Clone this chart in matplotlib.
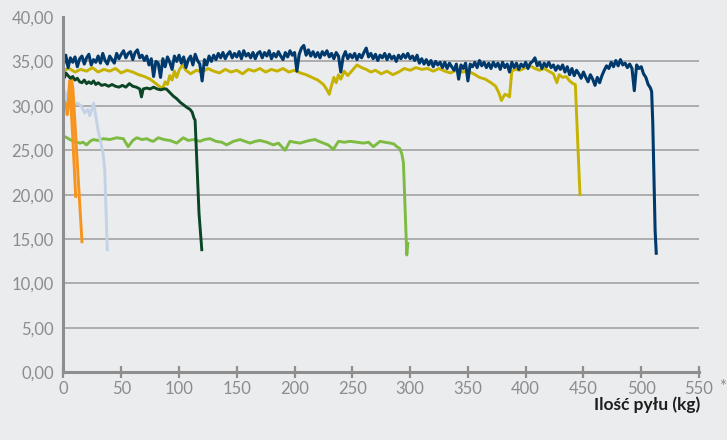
import numpy as np
import matplotlib
matplotlib.use("Agg")
import matplotlib.pyplot as plt
from matplotlib.ticker import FuncFormatter

# dark blue series, read every 2 kg, then the final drop
blue_x = list(range(0, 509, 2)) + [509, 510, 511, 512, 513]
blue_y = [34.6, 35.7, 34.3, 35.4, 34.9, 35.5, 34.4, 35.3, 35.6, 34.7,
          35.4, 35.8, 34.6, 35.2, 34.9, 35.6, 34.8, 35.9, 35.1, 34.7,
          35.6, 35.2, 34.8, 35.9, 35.3, 35.8, 36.2, 35.4, 35.9, 36.1,
          35.2, 36.0, 36.3, 35.4, 35.7, 35.1, 35.6, 34.6, 35.3, 33.3,
          35.0, 34.8, 33.2, 35.3, 34.4, 35.5, 34.9, 34.1, 35.6, 35.0,
          35.7, 34.8, 35.5, 34.3, 35.2, 35.6, 34.6, 35.8, 35.1, 34.7,
          32.8, 35.2, 34.6, 35.6, 35.0, 35.7, 35.2, 35.9, 35.4, 36.0,
          35.3, 35.8, 36.1, 35.4, 35.9, 35.5, 36.1, 35.3, 36.2, 35.6,
          35.9, 35.4, 36.0, 35.3, 35.9, 36.1, 35.4, 36.0, 35.6, 36.2,
          35.3, 35.9, 35.5, 36.1, 35.6, 35.2, 36.0, 35.5, 36.2, 35.7,
          36.0, 33.9, 35.8, 36.5, 36.8, 35.7, 36.3, 35.6, 36.1, 35.5,
          36.0, 35.4, 36.1, 35.7, 36.2, 35.5, 35.9, 35.3, 36.0, 35.6,
          33.8, 35.5, 36.1, 35.3, 35.8, 35.4, 35.9, 35.2, 35.8, 35.4,
          36.0, 36.5, 35.5, 35.9, 35.3, 35.8, 35.1, 35.7, 35.4, 35.9,
          35.2, 35.8, 35.3, 35.6, 35.0, 35.7, 35.3, 35.8, 35.4, 35.9,
          35.3, 35.6, 35.1, 35.7, 34.8, 35.3, 34.7, 35.2, 34.6, 35.1,
          34.4, 35.0, 34.6, 34.9, 34.3, 34.9, 34.2, 34.8, 34.4, 34.0,
          34.7, 33.0, 34.6, 34.2, 34.8, 32.8, 34.7, 34.4, 34.9, 34.3,
          35.1, 34.5, 34.9, 34.3, 34.8, 34.2, 34.9, 34.4, 34.8, 34.1,
          34.9, 34.3, 34.7, 33.8, 34.9, 34.3, 34.8, 34.1, 34.7, 34.4,
          34.9, 34.2, 34.8, 35.0, 35.4, 34.5, 34.9, 34.2, 34.8, 34.4,
          34.9, 34.3, 34.6, 34.0, 34.5, 34.1, 34.6, 33.8, 34.4, 33.5,
          34.2, 33.4, 34.0, 33.6, 33.1, 33.8, 33.2, 32.7, 33.5, 33.0,
          32.3, 33.2, 32.6, 33.4, 34.0, 34.5, 34.2, 34.9, 34.4, 35.1,
          34.5, 35.2, 34.6, 34.8, 34.3, 34.7, 34.2, 31.7, 34.6, 34.2,
          34.4, 33.6, 33.2, 32.4, 32.0,
          31.6, 28.0, 22.0, 16.0, 13.4]

# yellow series
yellow_x = [0, 5, 10, 15, 20, 25, 30, 35, 40, 45, 50, 55, 60, 65, 70, 75, 80, 84, 86, 88,
            90, 92, 94, 96, 98, 100, 103, 106, 110, 115, 120, 125, 130, 135, 140, 145, 150, 155, 160, 165,
            170, 175, 180, 185, 190, 195, 200, 205, 210, 215, 220, 225, 228, 230, 232, 234, 236, 238, 240, 243,
            246, 250, 254, 258, 262, 266, 270, 275, 280, 285, 290, 295, 300, 305, 310, 315, 320, 325, 330, 335,
            340, 345, 350, 355, 360, 365, 370, 374, 377, 379, 382, 384, 386, 388, 391, 395, 400, 404, 408, 412,
            416, 420, 424, 427, 429, 432, 435, 438, 441, 443, 445, 447]
yellow_y = [34.0, 34.2, 33.8, 34.1, 33.9, 34.3, 33.8, 34.1, 33.9, 34.2, 33.7, 34.0, 33.8, 33.5, 33.3, 33.0, 32.5, 32.1, 32.0, 32.7,
            32.4, 33.4, 32.9, 33.9, 33.2, 34.0, 34.6, 34.0, 33.6, 34.0, 33.8, 34.2, 33.9, 33.7, 34.1, 33.8, 34.0, 33.6, 34.1, 33.9,
            34.2, 33.8, 34.1, 33.9, 34.2, 33.8, 34.0, 33.7, 33.5, 33.2, 32.9, 32.4, 31.8, 31.3, 32.3, 33.2, 32.6, 33.5, 33.0, 33.9,
            33.4, 34.0, 34.6, 34.3, 34.1, 33.8, 34.0, 33.6, 33.9, 33.5, 33.8, 34.2, 34.0, 34.3, 34.1, 34.2, 33.9, 34.2, 33.9, 33.7,
            34.0, 33.8, 33.9, 33.6, 33.2, 33.0, 32.6, 32.2, 31.4, 30.6, 31.3, 31.2, 31.0, 33.9, 34.1, 34.0, 34.3, 34.5, 34.2, 34.0,
            34.2, 33.9, 33.6, 32.6, 33.5, 33.2, 33.3, 32.8, 32.5, 32.4, 26.0, 20.0]

# dark green series
dgreen_x = [0, 1, 2, 4, 6, 8, 10, 12, 14, 16, 18, 20, 22, 24, 26, 28, 30, 33, 36, 39,
            42, 45, 48, 51, 54, 57, 60, 63, 66, 67.5, 69, 72, 75, 78, 81, 84, 87, 89, 92, 95,
            98, 101, 104, 107, 109.5, 111.3, 113, 113.9, 115.5, 117.3, 119.7]
dgreen_y = [33.9, 33.2, 33.7, 33.4, 33.1, 33.3, 32.9, 33.1, 32.7, 32.6, 32.9, 32.5, 32.7, 32.5, 32.8, 32.4, 32.6, 32.3, 32.4, 32.2,
            32.4, 32.2, 32.1, 32.3, 32.1, 32.5, 32.2, 32.1, 31.9, 31.0, 31.9, 32.0, 31.9, 32.1, 31.9, 31.8, 31.9, 31.9, 31.5, 31.1,
            30.8, 30.4, 30.1, 29.8, 29.6, 29.3, 28.6, 28.4, 23.5, 17.9, 13.8]

# light green series
lgreen_x = [0, 3, 5.6, 9, 14.3, 17, 20, 23, 25.8, 30, 34.5, 40, 46, 51.8, 56, 60, 63.4, 68, 72, 75,
            77.7, 82, 87, 92.2, 98, 103.7, 108, 112.4, 118.2, 122, 126.8, 132, 137, 141.3, 147, 152.8, 157, 161.5, 166, 170,
            176, 181.6, 186, 191.8, 196, 200, 204.8, 210, 213, 217.7, 221, 225, 229, 233.6, 238, 243, 248, 254, 259.6, 264,
            268.2, 274, 278, 282.7, 286, 288.5, 291, 292.8, 294.2, 297.1, 298]
lgreen_y = [26.6, 26.4, 26.2, 26.0, 25.8, 25.9, 25.6, 26.0, 26.2, 26.1, 26.3, 26.2, 26.4, 26.3, 25.4, 26.1, 26.4, 26.2, 26.3, 26.1,
            26.0, 26.4, 26.2, 26.1, 25.8, 26.4, 26.1, 26.2, 26.0, 26.2, 26.3, 26.0, 25.9, 25.6, 26.0, 26.2, 26.0, 25.8, 26.0, 26.1,
            25.9, 25.6, 25.8, 25.0, 26.0, 25.9, 25.8, 26.0, 26.1, 26.2, 26.0, 25.8, 25.6, 25.1, 26.0, 25.9, 26.0, 25.9, 25.8, 25.9,
            25.4, 26.0, 25.9, 25.8, 25.7, 25.4, 25.2, 24.6, 23.6, 13.2, 14.5]

# light blue series
lblue_x = [0, 1.3, 3.9, 6, 9.7, 12, 15.4, 18.3, 21.2, 22.7, 24.5, 26.1, 29.9, 34.2, 35.7, 37.9]
lblue_y = [30.8, 31.6, 30.4, 30.6, 30.2, 30.3, 30.0, 29.2, 29.6, 28.9, 29.6, 30.3, 27.3, 24.7, 22.8, 13.8]

# orange series (two strokes)
orange_x = [0, 1.5, 2.4, 3.2, 3.9, 4.6, 5.3, 8.0, 10.6, np.nan, 7.0, 8.2, 12.0, 16.0]
orange_y = [30.8, 30.3, 30.0, 29.0, 29.6, 31.5, 32.8, 26.5, 19.8, np.nan, 33.0, 31.9, 23.5, 14.7]

xticks = list(range(0, 551, 50))
yticks = list(range(0, 41, 5))
x_title = "Ilość pyłu (kg)"

bg = "#ebecee"
axis_grey = "#8e8e8e"
label_grey = "#8c8c8c"
fam = ["Lato", "DejaVu Sans"]

fig = plt.figure(figsize=(7.27, 4.40), dpi=100, facecolor=bg)
ax = fig.add_axes([0.0873, 0.1539, 0.8742, 0.8075])
ax.set_facecolor(bg)

for v in yticks[1:-1]:
    ax.axhline(v, color="#9c9c9c", lw=1.1, zorder=1)

lw = 2.1
ax.plot(lgreen_x, lgreen_y, color="#7dbb42", lw=lw, zorder=3)
ax.plot(lblue_x, lblue_y, color="#c3d3e5", lw=lw, zorder=3)
ax.plot(orange_x, orange_y, color="#f7941d", lw=lw, zorder=4)
ax.plot(yellow_x, yellow_y, color="#c6b200", lw=lw, zorder=3)
ax.plot(blue_x, blue_y, color="#003a6c", lw=2.2, zorder=4)
ax.plot(dgreen_x, dgreen_y, color="#0b4526", lw=lw, zorder=5)

ax.set_xlim(0, 550)
ax.set_ylim(0, 40)
ax.set_xticks(xticks)
ax.set_yticks(yticks)
ax.yaxis.set_major_formatter(FuncFormatter(lambda v, p: f"{v:.2f}".replace(".", ",")))

for s in ["top", "right"]:
    ax.spines[s].set_visible(False)
for s in ["left", "bottom"]:
    ax.spines[s].set_color(axis_grey)
    ax.spines[s].set_linewidth(2.2)
    ax.spines[s].set_zorder(6)

ax.tick_params(axis="x", direction="inout", length=9, width=1.6, color=axis_grey,
               labelsize=12, labelcolor=label_grey, pad=2)
ax.tick_params(axis="y", length=0, labelsize=12, labelcolor=label_grey, pad=7)
for lab in ax.get_xticklabels() + ax.get_yticklabels():
    lab.set_family(fam)

fig.text(0.9935, 0.1205, "*", ha="center", va="center", fontsize=12,
         color=label_grey, family=fam)
fig.text(0.963, 0.0795, x_title, ha="right", va="center", fontsize=12.5,
         fontweight="bold", color="#1e1e1e", family=fam)

fig.savefig("out.png", dpi=100, facecolor=bg)
